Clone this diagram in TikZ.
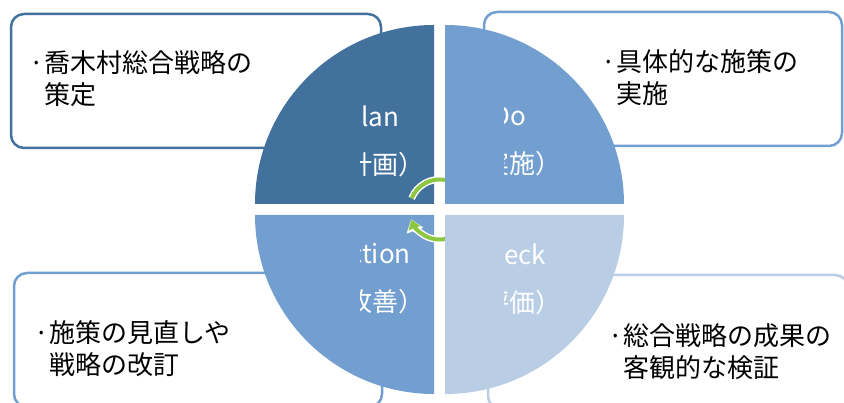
\documentclass[tikz,border=0pt]{standalone}
\usepackage{fontspec}
\newfontfamily\jpfont{Noto Sans CJK JP}
\usetikzlibrary{arrows.meta}

\definecolor{plancol}{HTML}{41719C}
\definecolor{docol}{HTML}{729FCF}
\definecolor{checkcol}{HTML}{B9CDE5}
\definecolor{actcol}{HTML}{729FCF}
\definecolor{turngreen}{HTML}{8DC63F}

\begin{document}
\begin{tikzpicture}[
  x=1pt, y=1pt,
  box/.style   = {line width=2.5pt, rounded corners=13pt, fill=white, minimum height=134pt, inner sep=0pt},
  note/.style  = {anchor=west, inner sep=0pt, align=left, font=\jpfont\fontsize{26pt}{32pt}\selectfont},
  phase/.style = {inner sep=0pt, align=center, text=white, font=\jpfont\fontsize{26pt}{48pt}\selectfont},
  halo/.style  = {draw=white, line width=7pt},
  turn/.style  = {draw=turngreen, line width=4pt}
]
  \clip (0,0) rectangle (844,403);

  % corner boxes
  \node[box, draw=plancol, minimum width=370pt] (planbox) at (196,322) {};
  \node[box, draw=docol, minimum width=358pt] (dobox) at (663,324) {};
  \node[box, draw=actcol, minimum width=368pt] (actbox) at (198,63) {};
  \node[box, draw=checkcol, minimum width=360pt] (checkbox) at (668,61) {};

  % box texts
  \node[note] (planlist) at (44,324) {\llap{·}喬木村総合戦略の\\策定};
  \node[note] (dolist) at (616,325.5) {\llap{·}具体的な施策の\\実施};
  \node[note] (actlist) at (49,54) {\llap{·}施策の見直しや\\戦略の改訂};
  \node[note] (checklist) at (623,51) {\llap{·}総合戦略の成果の\\客観的な検証};

  % left quadrants
  \fill[plancol] (434,199) -- (255,199) arc[start angle=180, end angle=90, radius=179pt] -- cycle;
  \fill[actcol] (434,188) -- (434,9) arc[start angle=270, end angle=180, radius=179pt] -- cycle;

  % turning arrows in the middle
  \draw[halo] (439.5,193.5) ++(60:30pt) arc[start angle=60, end angle=158, radius=30pt];
  \draw[turn] (439.5,193.5) ++(60:30pt) arc[start angle=60, end angle=158, radius=30pt];
  \draw[halo, -{Triangle[width=17pt, length=12pt]}] (439.5,193.5) ++(300:30pt) arc[start angle=300, end angle=199, radius=30pt];
  \draw[turn, -{Triangle[width=12pt, length=9pt]}] (439.5,193.5) ++(300:30pt) arc[start angle=300, end angle=200, radius=30pt];

  % right quadrants
  \fill[docol] (445,199) -- (445,378) arc[start angle=90, end angle=0, radius=179pt] -- cycle;
  \fill[checkcol] (445,188) -- (624,188) arc[start angle=0, end angle=-90, radius=179pt] -- cycle;

  % phase names, cut on the left
  \begin{scope}
    \clip (360,0) rectangle (440,403);
    \node[phase] (plan) at (372,262) {Plan\\（計画）};
    \node[phase] (act) at (372,124) {Action\\（改善）};
  \end{scope}
  \begin{scope}
    \clip (504,0) rectangle (624,403);
    \node[phase] (do) at (509,262) {Do\\（実施）};
    \node[phase] (check) at (509,124) {Check\\（評価）};
  \end{scope}
\end{tikzpicture}
\end{document}
